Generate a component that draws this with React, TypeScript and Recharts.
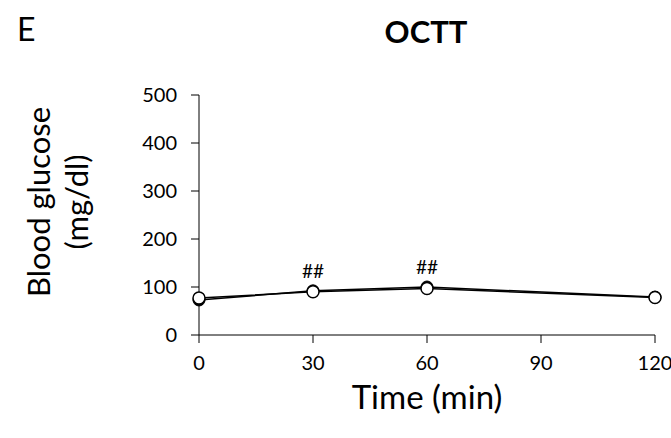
import { LineChart, Line, XAxis, YAxis, LabelList } from 'recharts';

const times = [0, 30, 60, 120];
const groupA = [73, 92, 100, 79];
const groupB = [77, 90, 97, 78];
const marks = ['', '##', '##', ''];
const xTicks = [0, 30, 60, 90, 120];
const yTicks = [0, 100, 200, 300, 400, 500];

const data = times.map((t, i) => ({ time: t, a: groupA[i], b: groupB[i], mark: marks[i] }));

const font = 'Lato, "Open Sans", sans-serif';

const MarkLabel = (props: any) => {
  const { x, y, value } = props;
  if (!value) return null;
  return (
    <text x={x} y={y - 14} textAnchor="middle" fontSize={19} fontFamily={font} fill="#000">
      {value}
    </text>
  );
};

export default function App() {
  return (
    <div style={{ position: 'absolute', left: 0, top: 0, width: 671, height: 438, background: '#fff', fontFamily: font, overflow: 'hidden' }}>
      <div style={{ position: 'absolute', left: 17, top: 13, fontSize: 32, lineHeight: '32px' }}>E</div>
      <div style={{ position: 'absolute', left: 326, width: 200, top: 16, fontSize: 31, lineHeight: '31px', fontWeight: 700, textAlign: 'center' }}>OCTT</div>
      <div
        style={{
          position: 'absolute',
          left: 57,
          top: 202,
          transform: 'translate(-50%, -50%) rotate(-90deg)',
          fontSize: 31,
          lineHeight: '38px',
          textAlign: 'center',
          whiteSpace: 'nowrap',
        }}
      >
        Blood glucose
        <br />
        (mg/dl)
      </div>
      <div style={{ position: 'absolute', left: 327, width: 200, top: 379, fontSize: 33, lineHeight: '34px', textAlign: 'center' }}>Time (min)</div>
      <LineChart width={671} height={438} data={data} margin={{ top: 95, right: 16, bottom: 63, left: 139 }}>
        <XAxis
          dataKey="time"
          type="number"
          domain={[0, 120]}
          ticks={xTicks}
          stroke="#000"
          tickSize={8}
          tickMargin={13}
          height={40}
          tick={{ fill: '#000', fontSize: 20, fontFamily: font }}
        />
        <YAxis
          type="number"
          domain={[0, 500]}
          ticks={yTicks}
          stroke="#000"
          tickSize={8}
          tickMargin={14}
          width={60}
          tick={{ fill: '#000', fontSize: 20, fontFamily: font }}
        />
        <Line
          dataKey="a"
          stroke="#000"
          strokeWidth={1.5}
          dot={{ r: 6, fill: '#000', stroke: '#000', strokeWidth: 1 }}
          isAnimationActive={false}
        />
        <Line
          dataKey="b"
          stroke="#000"
          strokeWidth={1.5}
          dot={{ r: 6, fill: '#fff', stroke: '#000', strokeWidth: 1.5 }}
          isAnimationActive={false}
        >
          <LabelList dataKey="mark" content={MarkLabel} />
        </Line>
      </LineChart>
    </div>
  );
}
